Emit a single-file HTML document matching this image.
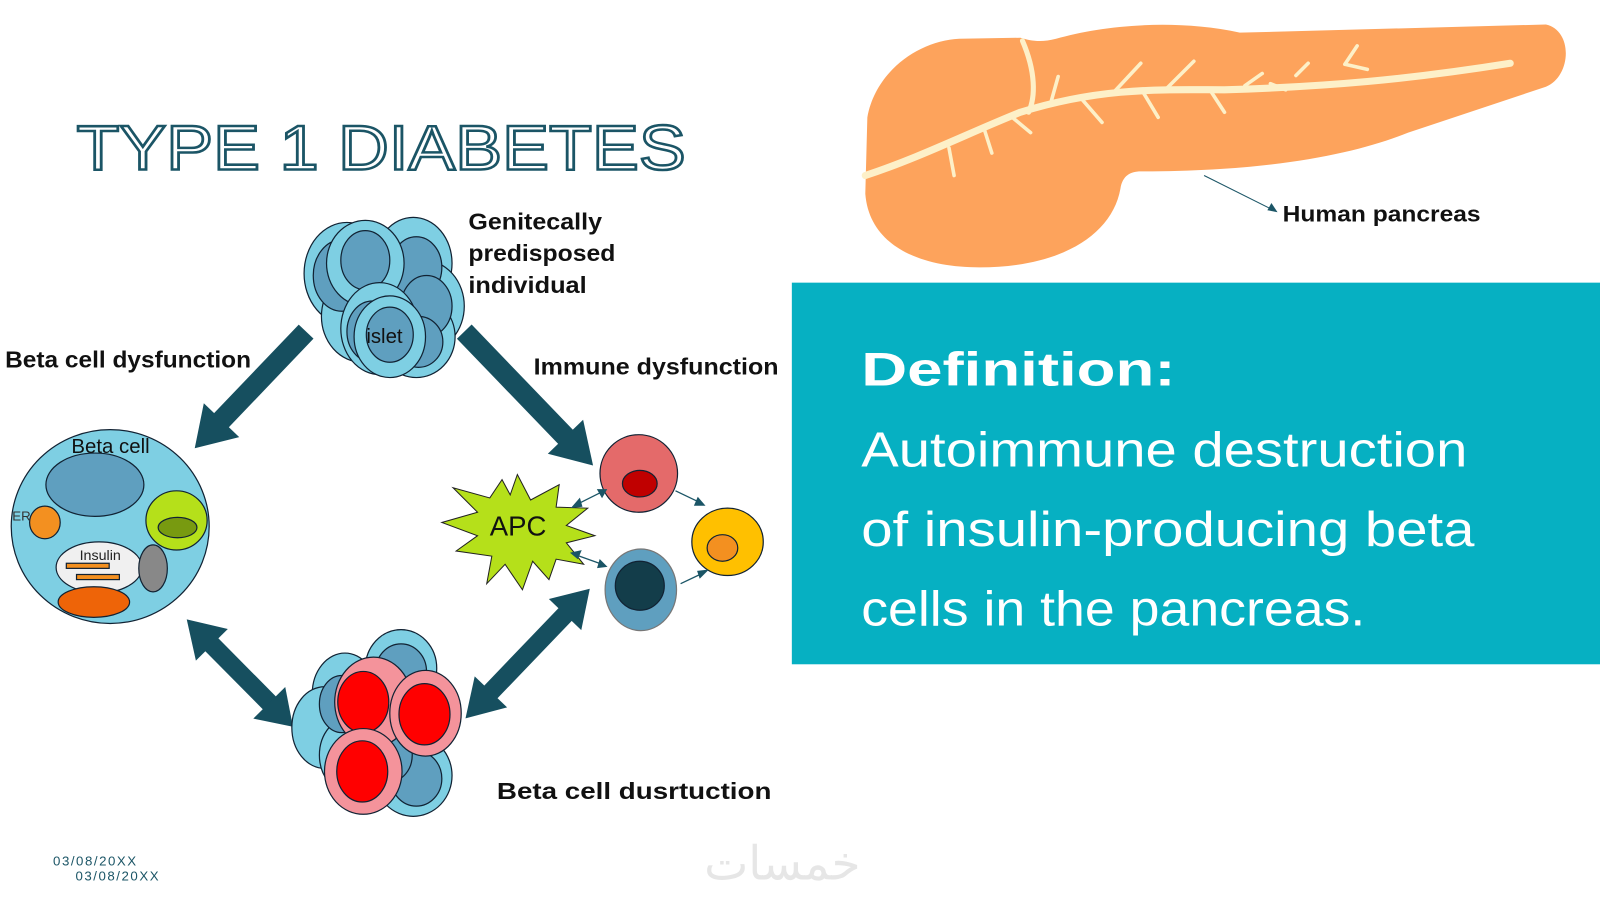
<!DOCTYPE html>
<html><head><meta charset="utf-8"><style>
html,body{margin:0;padding:0;background:#fff;}
svg{display:block;}
text{font-family:"Liberation Sans",sans-serif;}
</style></head><body>
<svg width="1600" height="900" viewBox="0 0 1568 882" preserveAspectRatio="none" xmlns="http://www.w3.org/2000/svg">
<!-- pancreas -->
<path d="M940,38 C900,40 858,70 850,115 L848,190 C852,240 900,262 960,262 C1040,262 1090,230 1098,185 C1100,172 1108,168 1118,168 C1250,168 1330,150 1380,130 L1515,85 C1540,75 1542,30 1515,24 L1215,32 C1150,18 1080,25 1035,38 C1020,42 1010,40 1000,37 Z" fill="#fda35c"/>
<g stroke="#fdf0c8" stroke-linecap="round" fill="none">
<path d="M848,172 C900,155 950,130 1000,110 C1080,85 1140,88 1200,88 C1300,85 1380,78 1480,62" stroke-width="7"/>
<path d="M1002,40 C1015,70 1015,95 1008,110" stroke-width="5"/>
<g stroke-width="3.5">
<path d="M930,145 L935,172"/><path d="M965,128 L972,150"/><path d="M992,115 L1010,130"/>
<path d="M1030,100 L1037,75"/><path d="M1060,97 L1080,120"/><path d="M1090,92 L1118,62"/>
<path d="M1120,90 L1135,115"/><path d="M1142,88 L1170,60"/><path d="M1185,87 L1200,110"/>
<path d="M1220,84 L1237,72"/><path d="M1245,82 L1260,88"/><path d="M1270,74 L1282,62"/>
<path d="M1318,63 L1330,45"/><path d="M1318,63 L1340,68"/>
</g></g>
<line x1="1180" y1="172" x2="1248" y2="206" stroke="#1b5566" stroke-width="1"/>
<polygon points="1252,208 1242,206 1246,199" fill="#1b5566"/>
<text x="1257" y="217" font-size="22" font-weight="bold" fill="#111" textLength="194" lengthAdjust="spacingAndGlyphs">Human pancreas</text>

<!-- definition -->
<rect x="776" y="277" width="830" height="374" fill="#06b0c2"/>
<text x="844" y="378" font-size="46" font-weight="bold" fill="#fff" textLength="308" lengthAdjust="spacingAndGlyphs">Definition:</text>
<g font-size="48" fill="#fff">
<text x="844" y="457" textLength="594" lengthAdjust="spacingAndGlyphs">Autoimmune destruction</text>
<text x="844" y="535" textLength="601" lengthAdjust="spacingAndGlyphs">of insulin-producing beta</text>
<text x="844" y="613" textLength="494" lengthAdjust="spacingAndGlyphs">cells in the pancreas.</text>
</g>

<!-- title -->
<text x="75" y="166" font-size="62" fill="#fff" stroke="#1b5566" stroke-width="2.5" textLength="597" lengthAdjust="spacingAndGlyphs">TYPE 1 DIABETES</text>

<!-- labels -->
<g font-size="23" font-weight="bold" fill="#111">
<text x="459" y="225" textLength="131" lengthAdjust="spacingAndGlyphs">Genitecally</text>
<text x="459" y="256" textLength="144" lengthAdjust="spacingAndGlyphs">predisposed</text>
<text x="459" y="287" textLength="116" lengthAdjust="spacingAndGlyphs">individual</text>
<text x="5" y="360" textLength="241" lengthAdjust="spacingAndGlyphs">Beta cell dysfunction</text>
<text x="523" y="367" textLength="240" lengthAdjust="spacingAndGlyphs">Immune dysfunction</text>
<text x="487" y="783" textLength="269" lengthAdjust="spacingAndGlyphs">Beta cell dusrtuction</text>
</g>

<!-- arrows -->
<g fill="#164f5f">
<g transform="translate(300,325) rotate(133.7)"><rect x="0" y="-10" width="125" height="20"/><polygon points="120,-24 158,0 120,24"/></g>
<g transform="translate(455,325) rotate(46.1)"><rect x="0" y="-10" width="148" height="20"/><polygon points="143,-24 182,0 143,24"/></g>
<g transform="translate(183,607) rotate(45.3)"><rect x="30" y="-9" width="90" height="18"/><polygon points="0,0 35,-22 35,22"/><polygon points="115,-22 148,0 115,22"/></g>
<g transform="translate(578,577) rotate(133.8)"><rect x="30" y="-9" width="115" height="18"/><polygon points="0,0 35,-22 35,22"/><polygon points="140,-22 176,0 140,22"/></g>
</g>

<!-- top islet -->
<g stroke="#123" stroke-width="1.2">
<g fill="#7ecfe3">
<ellipse cx="340" cy="268" rx="42" ry="50"/><ellipse cx="405" cy="258" rx="38" ry="45"/><ellipse cx="415" cy="300" rx="40" ry="45"/>
<ellipse cx="355" cy="310" rx="40" ry="45"/><ellipse cx="408" cy="330" rx="38" ry="40"/>
</g>
<g fill="#5f9fbf"><ellipse cx="335" cy="270" rx="28" ry="35"/><ellipse cx="408" cy="262" rx="25" ry="30"/><ellipse cx="418" cy="300" rx="25" ry="30"/><ellipse cx="410" cy="335" rx="24" ry="25"/></g>
<ellipse cx="358" cy="258" rx="38" ry="42" fill="#7ecfe3"/><ellipse cx="358" cy="255" rx="24" ry="29" fill="#5f9fbf"/>
<ellipse cx="372" cy="322" rx="38" ry="45" fill="#7ecfe3"/><ellipse cx="365" cy="325" rx="25" ry="30" fill="#5f9fbf"/>
<ellipse cx="382" cy="330" rx="35" ry="40" fill="#7ecfe3"/><ellipse cx="382" cy="328" rx="23" ry="27" fill="#5f9fbf"/>
</g>
<text x="359" y="336" font-size="20" fill="#111">islet</text>

<!-- beta cell -->
<g stroke="#123" stroke-width="1.2">
<ellipse cx="108" cy="516" rx="97" ry="95" fill="#7ecfe3"/>
<ellipse cx="93" cy="475" rx="48" ry="31" fill="#5f9fbf"/>
<ellipse cx="173" cy="510" rx="30" ry="29" fill="#b5e01a"/>
<ellipse cx="174" cy="517" rx="19" ry="10" fill="#789a10"/>
<ellipse cx="44" cy="512" rx="15" ry="16" fill="#f39020"/>
<ellipse cx="97" cy="556" rx="42" ry="25" fill="#f0f0f0"/>
<rect x="65" y="552" width="42" height="5" fill="#f39020"/><rect x="75" y="563" width="42" height="5" fill="#f39020"/>
<ellipse cx="150" cy="557" rx="14" ry="23" fill="#888"/>
<ellipse cx="92" cy="590" rx="35" ry="15" fill="#ee6408"/>
</g>
<text x="70" y="444" font-size="20" fill="#111">Beta cell</text>
<text x="12" y="510" font-size="13" fill="#333">ER</text>
<text x="78" y="549" font-size="14" fill="#222">Insulin</text>

<!-- APC and immune cells -->
<polygon points="507,465 520,490 548,475 545,497 576,498 555,515 583,525 555,532 572,553 545,548 538,568 522,550 512,578 495,553 477,572 482,545 447,540 468,525 433,512 468,502 444,478 480,488 492,470 500,485" fill="#b5e01a" stroke="#222" stroke-width="1"/>
<text x="480" y="525" font-size="27" fill="#111">APC</text>
<g stroke="#123" stroke-width="1.2">
<circle cx="626" cy="464" r="38" fill="#e46a6a"/><ellipse cx="627" cy="474" rx="17" ry="13" fill="#c00000"/>
<ellipse cx="713" cy="531" rx="35" ry="33" fill="#ffc000"/><ellipse cx="708" cy="537" rx="15" ry="13" fill="#f39020"/>
<ellipse cx="628" cy="578" rx="35" ry="40" fill="#5f9fbf" stroke="#777"/><circle cx="627" cy="574" r="24" fill="#133d4a"/>
</g>
<g stroke="#1b5566" stroke-width="1.3" fill="#1b5566">
<line x1="566" y1="494" x2="590" y2="482"/><polygon points="561,497 568,489 570,496"/><polygon points="594,480 586,480 590,487"/>
<line x1="565" y1="544" x2="590" y2="553"/><polygon points="560,542 569,540 566,547"/><polygon points="594,555 586,556 588,549"/>
<line x1="662" y1="481" x2="685" y2="492"/><polygon points="690,495 681,495 684,488"/>
<line x1="667" y1="572" x2="688" y2="562"/><polygon points="693,559 686,566 684,560"/>
</g>

<!-- bottom cluster -->
<g stroke="#123" stroke-width="1.2">
<g fill="#7ecfe3">
<ellipse cx="393" cy="655" rx="35" ry="38"/><ellipse cx="338" cy="680" rx="32" ry="40"/><ellipse cx="318" cy="713" rx="32" ry="40"/>
<ellipse cx="405" cy="760" rx="38" ry="40"/><ellipse cx="345" cy="740" rx="32" ry="38"/><ellipse cx="380" cy="737" rx="32" ry="38"/>
</g>
<g fill="#5f9fbf"><ellipse cx="393" cy="658" rx="25" ry="27"/><ellipse cx="335" cy="690" rx="22" ry="28"/><ellipse cx="408" cy="763" rx="25" ry="27"/><ellipse cx="382" cy="740" rx="22" ry="26"/></g>
<ellipse cx="366" cy="688" rx="38" ry="44" fill="#f4939b"/><ellipse cx="356" cy="688" rx="25" ry="30" fill="#f00"/>
<ellipse cx="417" cy="699" rx="35" ry="42" fill="#f4939b"/><ellipse cx="416" cy="700" rx="25" ry="30" fill="#f00"/>
<ellipse cx="356" cy="756" rx="38" ry="42" fill="#f4939b"/><ellipse cx="355" cy="756" rx="25" ry="30" fill="#f00"/>
</g>

<!-- footer -->
<g font-size="13" fill="#1b5566" letter-spacing="1.5">
<text x="52" y="848">03/08/20XX</text>
<text x="74" y="863">03/08/20XX</text>
</g>
<text x="690" y="862" font-size="46" fill="#e6e6e6" font-family="'DejaVu Sans',sans-serif">خمسات</text>
</svg>
</body></html>
